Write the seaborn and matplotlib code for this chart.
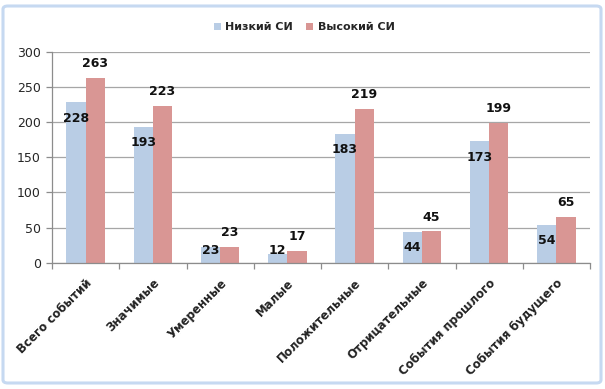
import matplotlib
matplotlib.use("Agg")
import matplotlib.pyplot as plt
import seaborn as sns
import pandas as pd
from matplotlib.patches import FancyBboxPatch, Patch

categories = ["Всего событий", "Значимые", "Умеренные", "Малые",
              "Положительные", "Отрицательные", "События прошлого", "События будущего"]
series_names = ["Низкий СИ", "Высокий СИ"]
low_values = [228, 193, 23, 12, 183, 44, 173, 54]
high_values = [263, 223, 23, 17, 219, 45, 199, 65]
y_ticks = [0, 50, 100, 150, 200, 250, 300]

colors = ["#b9cde5", "#d99694"]

df = pd.DataFrame({
    "cat": categories * 2,
    "series": [series_names[0]] * len(categories) + [series_names[1]] * len(categories),
    "value": low_values + high_values,
})

sns.set_theme(style="white")
plt.rcParams['font.family'] = ['DejaVu Sans']

fig = plt.figure(figsize=(6.05, 3.89), dpi=100)
ax = fig.add_axes([52 / 605, 1 - 262.7 / 389, (590 - 52) / 605, (262.7 - 51.7) / 389])

sns.barplot(data=df, x="cat", y="value", hue="series", palette=colors,
            width=0.575, gap=0, ax=ax, saturation=1, legend=False,
            edgecolor="none", linewidth=0)

ax.set_xlim(-0.5, len(categories) - 0.5)
ax.set_ylim(0, 300)
ax.set_yticks(y_ticks)
ax.set_yticklabels([str(t) for t in y_ticks], fontsize=9, color="#262626")
ax.yaxis.grid(True, color="#a6a6a6", linewidth=0.9)
ax.set_axisbelow(True)
ax.set_xlabel("")
ax.set_ylabel("")

for s in ["top", "right"]:
    ax.spines[s].set_visible(False)
for s in ["left", "bottom"]:
    ax.spines[s].set_color("#8c8c8c")
    ax.spines[s].set_linewidth(0.9)

ax.tick_params(axis="y", which="major", left=True, length=4, width=0.9, color="#8c8c8c", pad=4)
# category labels
ax.set_xticks(range(len(categories)))
ax.set_xticklabels(categories, rotation=45, ha="right", rotation_mode="anchor",
                   fontsize=8.5, fontweight="bold", color="#222222")
ax.tick_params(axis="x", which="major", bottom=False, length=0, pad=10)
ax.set_xticks([i - 0.5 for i in range(len(categories) + 1)], minor=True)
ax.tick_params(axis="x", which="minor", bottom=True, length=4, width=0.9, color="#8c8c8c")

px_per_unit = 211.0 / 300
# value labels
for bar, v in zip(ax.containers[0], low_values):
    cx = bar.get_x() + bar.get_width() / 2
    y = max(v - 16 / px_per_unit, 12.5 / px_per_unit)
    ax.text(cx, y, str(v), ha="center", va="center", fontsize=9,
            fontweight="bold", color="#111111")
for bar, v in zip(ax.containers[1], high_values):
    cx = bar.get_x() + bar.get_width() / 2
    y = v + 14 / px_per_unit
    ax.text(cx, y, str(v), ha="center", va="center", fontsize=9,
            fontweight="bold", color="#111111", clip_on=False)

handles = [Patch(facecolor=c, edgecolor="none") for c in colors]
fig.legend(handles, series_names, loc="center", bbox_to_anchor=(0.503, 1 - 27 / 389),
           ncol=2, frameon=False, handlelength=0.6, handleheight=0.6,
           handletextpad=0.4, columnspacing=1.2,
           prop={"weight": "bold", "size": 8})

border = FancyBboxPatch((3 / 605, 6 / 389), (601 - 3) / 605, (386 - 9) / 389,
                        boxstyle="round,pad=0,rounding_size=0.008",
                        transform=fig.transFigure, facecolor="none",
                        edgecolor="#c6d9f1", linewidth=2.2, zorder=10)
fig.patches.append(border)

fig.savefig("out.png", dpi=100)
